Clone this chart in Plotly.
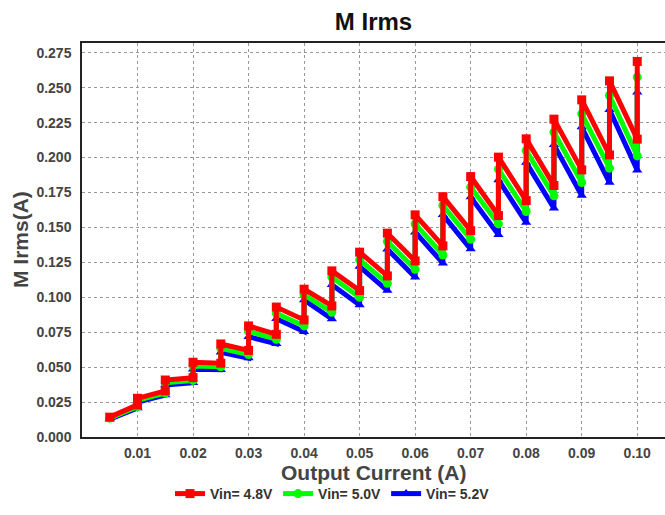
import plotly.graph_objects as go

# Output current steps; each step (after the first) has a low and a high point
steps = [0.01, 0.015, 0.02, 0.025, 0.03, 0.035, 0.04, 0.045, 0.05, 0.055,
         0.06, 0.065, 0.07, 0.075, 0.08, 0.085, 0.09, 0.095, 0.10]
x_start = 0.005

red_start = 0.0142
red_low = [0.0230, 0.0330, 0.0425, 0.0528, 0.0620, 0.0735, 0.0838, 0.0938, 0.1048, 0.1153,
           0.1260, 0.1368, 0.1477, 0.1585, 0.1692, 0.1800, 0.1912, 0.2019, 0.2132]
red_high = [0.0277, 0.0408, 0.0535, 0.0666, 0.0795, 0.0930, 0.1058, 0.1189, 0.1323, 0.1459,
            0.1590, 0.1720, 0.1864, 0.2003, 0.2134, 0.2275, 0.2413, 0.2549, 0.2688]

green_start = 0.0135
green_low = [0.0218, 0.0315, 0.0405, 0.0503, 0.0590, 0.0700, 0.0795, 0.0893, 0.1000, 0.1100,
             0.1200, 0.1303, 0.1415, 0.1525, 0.1614, 0.1726, 0.1821, 0.1924, 0.2012]
green_high = [0.0263, 0.0389, 0.0508, 0.0635, 0.0756, 0.0885, 0.1017, 0.1144, 0.1268, 0.1400,
              0.1525, 0.1657, 0.1788, 0.1917, 0.2050, 0.2182, 0.2313, 0.2444, 0.2576]

blue_start = 0.0128
blue_low = [0.0208, 0.0300, 0.0388, 0.0482, 0.0565, 0.0668, 0.0754, 0.0845, 0.0945, 0.1048,
            0.1144, 0.1244, 0.1345, 0.1447, 0.1535, 0.1638, 0.1728, 0.1821, 0.1910]
blue_high = [0.0250, 0.0372, 0.0485, 0.0607, 0.0718, 0.0847, 0.0981, 0.1090, 0.1220, 0.1344,
             0.1466, 0.1590, 0.1717, 0.1840, 0.1964, 0.2091, 0.2218, 0.2342, 0.2468]

labels = ["Vin= 4.8V", "Vin= 5.0V", "Vin= 5.2V"]
colors = ["#ff0000", "#00ff00", "#0000ff"]
symbols = ["square", "circle", "triangle-up"]

x_ticks = [0.01, 0.02, 0.03, 0.04, 0.05, 0.06, 0.07, 0.08, 0.09, 0.10]
x_tick_text = ["0.01", "0.02", "0.03", "0.04", "0.05", "0.06", "0.07", "0.08", "0.09", "0.10"]
y_ticks = [0.0, 0.025, 0.05, 0.075, 0.1, 0.125, 0.15, 0.175, 0.2, 0.225, 0.25, 0.275]

title_text = "M Irms"
x_title = "Output Current (A)"
y_title = "M Irms(A)"


def build(start, lows, highs):
    xs, ys = [x_start], [start]
    for s, lo, hi in zip(steps, lows, highs):
        xs += [s, s]
        ys += [lo, hi]
    return xs, ys


series = [(red_start, red_low, red_high), (green_start, green_low, green_high),
          (blue_start, blue_low, blue_high)]

fig = go.Figure()
for i in [2, 1, 0]:
    xs, ys = build(*series[i])
    fig.add_trace(go.Scatter(
        x=xs, y=ys, name=labels[i], mode="lines+markers",
        line=dict(color=colors[i], width=5),
        marker=dict(color=colors[i], symbol=symbols[i], size=9),
    ))

FONT = "Liberation Sans"
PLOT_H = 515 - 43 - 78
PLOT_W = 665 - 82
fig.update_layout(
    width=665, height=515,
    margin=dict(l=82, r=0, t=43, b=78),
    paper_bgcolor="white", plot_bgcolor="white",
    title=dict(text="<b>" + title_text + "</b>", x=0.5, xref="paper", xanchor="center",
               y=1 - 22 / 515, yanchor="middle",
               font=dict(family=FONT, size=24, color="#111")),
    showlegend=True,
    legend=dict(orientation="h", traceorder="reversed",
                xref="container", yref="container",
                x=0.5, xanchor="center", y=1 - 494 / 515, yanchor="middle",
                font=dict(family=FONT, size=14, color="#333", weight="bold"),
                itemwidth=30, tracegroupgap=0, bgcolor="rgba(0,0,0,0)"),
    annotations=[
        dict(text="<b>" + x_title + "</b>", xref="paper", yref="paper",
             x=0.5, y=-(459 - 437) / PLOT_H, xanchor="center", yanchor="top",
             showarrow=False, font=dict(family=FONT, size=21, color="#444")),
        dict(text="<b>" + y_title + "</b>", xref="paper", yref="paper",
             x=-(82 - 20) / PLOT_W, y=0.5, xanchor="center", yanchor="middle",
             textangle=-90, showarrow=False,
             font=dict(family=FONT, size=21, color="#444")),
    ],
)
fig.update_xaxes(
    range=[0, 0.105], tickvals=x_ticks, ticktext=x_tick_text,
    showgrid=True, gridcolor="#999", griddash="dot", gridwidth=1,
    showline=True, linecolor="#222", linewidth=1.5, mirror=True,
    ticks="", zeroline=False, automargin=False, ticklabelstandoff=2,
    tickfont=dict(family=FONT, size=14, color="#444", weight="bold"),
)
fig.update_yaxes(
    range=[0, 0.282], tickvals=y_ticks, tickformat=".3f",
    showgrid=True, gridcolor="#999", griddash="dot", gridwidth=1,
    showline=True, linecolor="#222", linewidth=1.5, mirror=False,
    ticks="", zeroline=False, ticklabelstandoff=6, automargin=False,
    tickfont=dict(family=FONT, size=14, color="#444", weight="bold"),
)

fig.write_html("out.html")
